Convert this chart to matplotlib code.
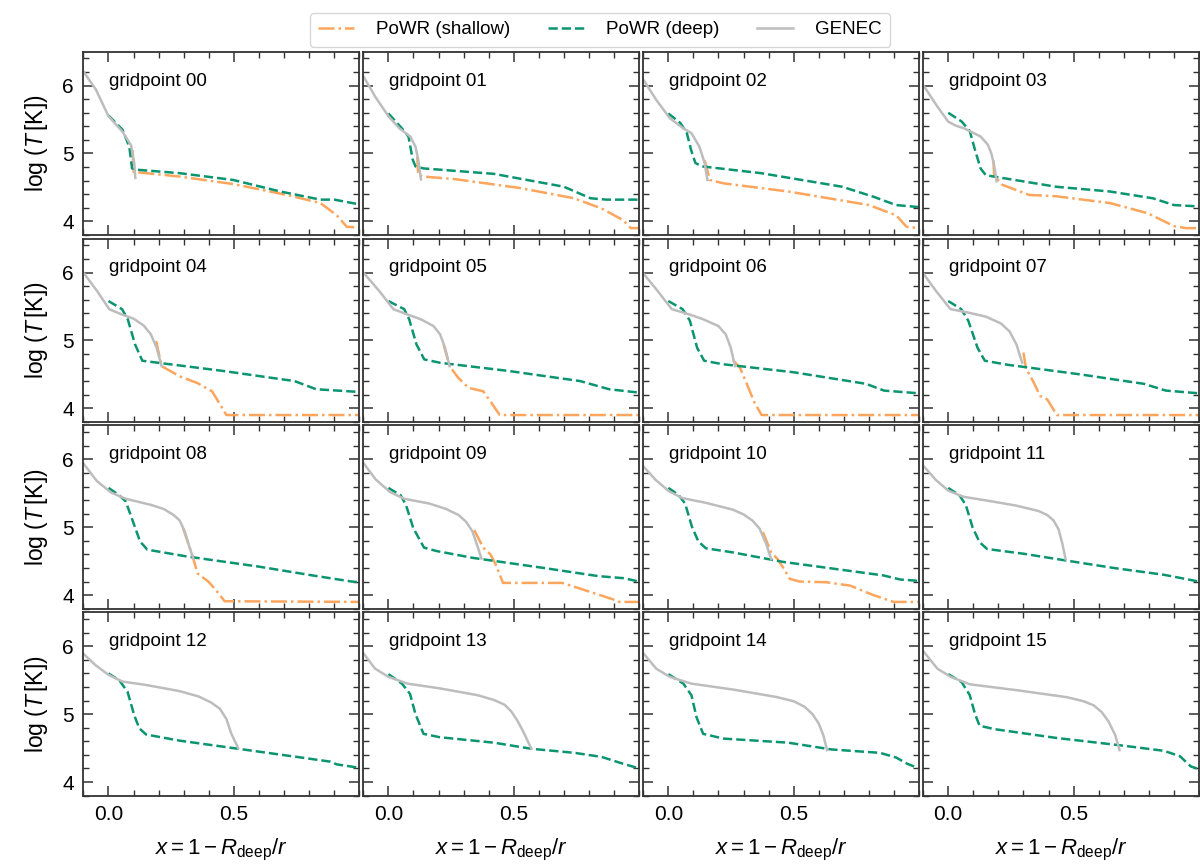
import matplotlib
matplotlib.use("Agg")
import matplotlib.pyplot as plt
from matplotlib.ticker import MultipleLocator, FixedLocator

plt.rcParams['font.family'] = ['Liberation Sans', 'DejaVu Sans']
plt.rcParams['mathtext.fontset'] = 'custom'
plt.rcParams['mathtext.rm'] = 'Liberation Sans'
plt.rcParams['mathtext.it'] = 'Liberation Sans:italic'
plt.rcParams['mathtext.bf'] = 'Liberation Sans:bold'

# ---------------- data (x = 1 - R_deep/r, y = log T) ----------------
labels = ["gridpoint %02d" % i for i in range(16)]

genec_x_00 = [-0.1, -0.05, 0.0, 0.056, 0.09, 0.103, 0.107]
genec_y_00 = [6.21, 5.94, 5.55, 5.32, 5.12, 4.85, 4.64]
deep_x_00 = [0.0, 0.056, 0.083, 0.094, 0.116, 0.284, 0.497, 0.685, 0.845, 0.90, 1.0]
deep_y_00 = [5.56, 5.35, 5.10, 4.78, 4.76, 4.71, 4.61, 4.44, 4.32, 4.32, 4.25]
shal_x_00 = [0.096, 0.100, 0.123, 0.284, 0.497, 0.71, 0.845, 0.91, 0.95, 1.0]
shal_y_00 = [5.05, 4.73, 4.72, 4.66, 4.55, 4.39, 4.27, 4.09, 3.92, 3.91]

genec_x_01 = [-0.1, -0.053, 0.0, 0.044, 0.087, 0.108, 0.119, 0.13]
genec_y_01 = [6.14, 5.84, 5.55, 5.37, 5.25, 5.10, 4.91, 4.62]
deep_x_01 = [0.0, 0.054, 0.08, 0.097, 0.108, 0.14, 0.42, 0.70, 0.806, 0.87, 1.0]
deep_y_01 = [5.59, 5.37, 5.25, 4.91, 4.81, 4.78, 4.70, 4.51, 4.34, 4.32, 4.32]
shal_x_01 = [0.115, 0.119, 0.14, 0.27, 0.527, 0.74, 0.85, 0.935, 0.967, 1.0]
shal_y_01 = [4.95, 4.68, 4.66, 4.62, 4.49, 4.34, 4.19, 4.02, 3.90, 3.90]

genec_x_02 = [-0.1, -0.048, 0.006, 0.06, 0.092, 0.124, 0.145, 0.156]
genec_y_02 = [6.09, 5.79, 5.52, 5.37, 5.30, 5.10, 4.86, 4.61]
deep_x_02 = [0.0, 0.048, 0.074, 0.091, 0.108, 0.134, 0.37, 0.693, 0.82, 0.908, 1.0]
deep_y_02 = [5.59, 5.45, 5.30, 5.05, 4.86, 4.81, 4.71, 4.51, 4.36, 4.24, 4.21]
shal_x_02 = [0.145, 0.166, 0.22, 0.478, 0.80, 0.908, 0.95, 1.0]
shal_y_02 = [4.90, 4.61, 4.56, 4.44, 4.24, 4.09, 3.92, 3.90]

genec_x_03 = [-0.1, -0.043, 0.0, 0.03, 0.064, 0.129, 0.158, 0.172, 0.183, 0.193]
genec_y_03 = [6.01, 5.69, 5.47, 5.41, 5.37, 5.25, 5.13, 5.0, 4.83, 4.59]
deep_x_03 = [0.0, 0.054, 0.086, 0.107, 0.129, 0.15, 0.215, 0.43, 0.644, 0.816, 0.90, 1.0]
deep_y_03 = [5.60, 5.47, 5.33, 5.05, 4.78, 4.68, 4.64, 4.51, 4.44, 4.34, 4.24, 4.22]
shal_x_03 = [0.18, 0.183, 0.215, 0.322, 0.43, 0.644, 0.795, 0.90, 0.95, 1.0]
shal_y_03 = [4.90, 4.68, 4.54, 4.39, 4.37, 4.27, 4.12, 3.93, 3.90, 3.90]

genec_x_04 = [-0.1, -0.046, 0.003, 0.054, 0.1, 0.14, 0.169, 0.192, 0.212]
genec_y_04 = [6.0, 5.73, 5.46, 5.38, 5.32, 5.22, 5.09, 4.89, 4.62]
deep_x_04 = [0.0, 0.054, 0.077, 0.106, 0.135, 0.198, 0.456, 0.742, 0.828, 1.0]
deep_y_04 = [5.58, 5.46, 5.31, 4.94, 4.70, 4.67, 4.55, 4.40, 4.28, 4.24]
shal_x_04 = [0.19, 0.212, 0.284, 0.355, 0.413, 0.441, 0.47, 1.0]
shal_y_04 = [4.99, 4.62, 4.47, 4.37, 4.25, 4.08, 3.90, 3.90]

genec_x_05 = [-0.1, -0.037, 0.02, 0.077, 0.13, 0.18, 0.206, 0.226, 0.244]
genec_y_05 = [6.0, 5.73, 5.46, 5.38, 5.31, 5.21, 5.09, 4.89, 4.62]
deep_x_05 = [0.0, 0.063, 0.083, 0.112, 0.143, 0.206, 0.478, 0.765, 0.88, 1.0]
deep_y_05 = [5.58, 5.46, 5.31, 4.94, 4.72, 4.67, 4.55, 4.40, 4.28, 4.23]
shal_x_05 = [0.22, 0.244, 0.278, 0.32, 0.378, 0.407, 0.444, 1.0]
shal_y_05 = [4.94, 4.62, 4.45, 4.30, 4.25, 4.10, 3.90, 3.90]

genec_x_06 = [-0.1, -0.043, 0.014, 0.086, 0.14, 0.2, 0.229, 0.249, 0.266]
genec_y_06 = [5.99, 5.73, 5.46, 5.38, 5.31, 5.21, 5.09, 4.89, 4.62]
deep_x_06 = [0.0, 0.057, 0.086, 0.115, 0.143, 0.215, 0.50, 0.788, 0.86, 1.0]
deep_y_06 = [5.58, 5.46, 5.29, 4.89, 4.70, 4.65, 4.53, 4.36, 4.26, 4.22]
shal_x_06 = [0.258, 0.287, 0.315, 0.344, 0.372, 1.0]
shal_y_06 = [4.71, 4.59, 4.34, 4.08, 3.90, 3.90]

genec_x_07 = [-0.1, -0.049, 0.009, 0.08, 0.15, 0.21, 0.245, 0.272, 0.295]
genec_y_07 = [5.99, 5.73, 5.46, 5.41, 5.35, 5.25, 5.13, 4.94, 4.67]
deep_x_07 = [0.0, 0.052, 0.08, 0.117, 0.146, 0.238, 0.524, 0.78, 0.868, 1.0]
deep_y_07 = [5.58, 5.46, 5.29, 4.89, 4.70, 4.64, 4.50, 4.36, 4.26, 4.22]
shal_x_07 = [0.30, 0.31, 0.338, 0.367, 0.395, 0.433, 1.0]
shal_y_07 = [4.82, 4.59, 4.40, 4.18, 4.13, 3.90, 3.90]

genec_x_08 = [-0.1, -0.046, 0.011, 0.069, 0.169, 0.22, 0.26, 0.284, 0.305, 0.32, 0.338]
genec_y_08 = [5.94, 5.68, 5.51, 5.42, 5.33, 5.27, 5.18, 5.10, 4.93, 4.74, 4.54]
deep_x_08 = [0.0, 0.04, 0.069, 0.097, 0.126, 0.155, 0.312, 0.6, 0.814, 0.97, 1.0]
deep_y_08 = [5.58, 5.48, 5.38, 5.09, 4.79, 4.67, 4.57, 4.42, 4.29, 4.20, 4.19]
shal_x_08 = [0.298, 0.32, 0.338, 0.355, 0.398, 0.427, 0.463, 1.0]
shal_y_08 = [4.98, 4.74, 4.54, 4.32, 4.20, 4.08, 3.91, 3.90]

genec_x_09 = [-0.1, -0.052, 0.006, 0.063, 0.163, 0.23, 0.28, 0.31, 0.335, 0.357, 0.371]
genec_y_09 = [5.95, 5.71, 5.52, 5.42, 5.35, 5.27, 5.18, 5.08, 4.94, 4.70, 4.54]
deep_x_09 = [0.0, 0.049, 0.07, 0.099, 0.142, 0.192, 0.335, 0.62, 0.837, 0.937, 1.0]
deep_y_09 = [5.58, 5.47, 5.33, 4.99, 4.70, 4.65, 4.55, 4.40, 4.28, 4.25, 4.20]
shal_x_09 = [0.342, 0.378, 0.407, 0.428, 0.457, 0.693, 0.794, 0.894, 0.92, 1.0]
shal_y_09 = [4.96, 4.70, 4.60, 4.45, 4.18, 4.18, 4.06, 3.94, 3.90, 3.90]

genec_x_10 = [-0.1, -0.051, 0.003, 0.056, 0.15, 0.257, 0.3, 0.335, 0.364, 0.39, 0.41]
genec_y_10 = [5.90, 5.70, 5.53, 5.43, 5.36, 5.26, 5.19, 5.10, 4.98, 4.76, 4.53]
deep_x_10 = [0.0, 0.04, 0.067, 0.094, 0.12, 0.15, 0.257, 0.457, 0.658, 0.858, 0.925, 1.0]
deep_y_10 = [5.58, 5.48, 5.35, 5.01, 4.79, 4.69, 4.63, 4.49, 4.39, 4.29, 4.23, 4.21]
shal_x_10 = [0.377, 0.41, 0.436, 0.457, 0.484, 0.524, 0.63, 0.725, 0.818, 0.898, 1.0]
shal_y_10 = [4.93, 4.63, 4.53, 4.41, 4.24, 4.20, 4.19, 4.14, 4.0, 3.90, 3.90]

genec_x_11 = [-0.1, -0.05, 0.0, 0.06, 0.16, 0.27, 0.36, 0.395, 0.42, 0.44, 0.455, 0.468]
genec_y_11 = [5.91, 5.70, 5.54, 5.45, 5.39, 5.32, 5.24, 5.18, 5.10, 4.97, 4.76, 4.53]
deep_x_11 = [0.0, 0.045, 0.07, 0.097, 0.125, 0.155, 0.30, 0.47, 0.66, 0.86, 1.0]
deep_y_11 = [5.58, 5.47, 5.33, 5.0, 4.78, 4.68, 4.61, 4.51, 4.40, 4.30, 4.20]

genec_x_12 = [-0.1, -0.051, 0.0, 0.056, 0.15, 0.283, 0.36, 0.41, 0.444, 0.47, 0.49, 0.517]
genec_y_12 = [5.89, 5.72, 5.58, 5.48, 5.43, 5.34, 5.26, 5.17, 5.08, 4.93, 4.71, 4.50]
deep_x_12 = [0.0, 0.043, 0.076, 0.103, 0.123, 0.15, 0.283, 0.517, 0.751, 0.885, 0.91, 1.0]
deep_y_12 = [5.60, 5.50, 5.33, 4.98, 4.79, 4.70, 4.61, 4.49, 4.37, 4.30, 4.26, 4.21]

genec_x_13 = [-0.1, -0.053, 0.0, 0.076, 0.205, 0.355, 0.42, 0.463, 0.49, 0.515, 0.538, 0.57]
genec_y_13 = [5.90, 5.67, 5.55, 5.45, 5.38, 5.28, 5.21, 5.14, 5.04, 4.90, 4.74, 4.49]
deep_x_13 = [0.0, 0.054, 0.086, 0.108, 0.14, 0.205, 0.42, 0.57, 0.742, 0.85, 0.935, 1.0]
deep_y_13 = [5.59, 5.45, 5.30, 5.0, 4.71, 4.66, 4.58, 4.49, 4.43, 4.37, 4.27, 4.20]

genec_x_14 = [-0.1, -0.048, 0.006, 0.092, 0.263, 0.435, 0.5, 0.543, 0.575, 0.6, 0.618, 0.633]
genec_y_14 = [5.90, 5.67, 5.55, 5.45, 5.36, 5.25, 5.19, 5.11, 5.0, 4.86, 4.69, 4.47]
deep_x_14 = [0.0, 0.06, 0.092, 0.113, 0.139, 0.22, 0.478, 0.65, 0.844, 0.909, 0.952, 1.0]
deep_y_14 = [5.59, 5.45, 5.28, 4.95, 4.71, 4.64, 4.58, 4.48, 4.43, 4.36, 4.27, 4.20]

genec_x_15 = [-0.1, -0.043, 0.01, 0.086, 0.28, 0.473, 0.54, 0.58, 0.612, 0.638, 0.666, 0.683]
genec_y_15 = [5.93, 5.67, 5.55, 5.44, 5.35, 5.25, 5.19, 5.13, 5.03, 4.90, 4.69, 4.47]
deep_x_15 = [0.0, 0.054, 0.086, 0.107, 0.125, 0.183, 0.43, 0.688, 0.86, 0.924, 0.967, 1.0]
deep_y_15 = [5.59, 5.47, 5.28, 5.0, 4.83, 4.78, 4.65, 4.54, 4.46, 4.38, 4.23, 4.19]

g = globals()
panels = []
for i in range(16):
    k = "%02d" % i
    panels.append(dict(
        gx=g["genec_x_" + k], gy=g["genec_y_" + k],
        dx=g["deep_x_" + k], dy=g["deep_y_" + k],
        sx=g.get("shal_x_" + k), sy=g.get("shal_y_" + k)))

# ---------------- styles ----------------
c_shal = "#FCA55D"
c_deep = "#0B9470"
c_gen = "#BDBDBD"
lw = 1.8

fig, axes = plt.subplots(4, 4, figsize=(12, 8.66), dpi=100, sharex=True, sharey=True)
fig.subplots_adjust(left=0.0695, right=0.9992, top=0.9403, bottom=0.0813,
                    wspace=0.0145, hspace=0.02)

for i, ax in enumerate(axes.flat):
    p = panels[i]
    if p["sx"] is not None:
        ax.plot(p["sx"], p["sy"], color=c_shal, lw=lw, ls="-.", label="PoWR (shallow)")
    ax.plot(p["dx"], p["dy"], color=c_deep, lw=lw, ls="--", label="PoWR (deep)")
    ax.plot(p["gx"], p["gy"], color=c_gen, lw=lw, ls="-", label="GENEC")
    ax.text(0.093, 0.84, labels[i], transform=ax.transAxes, fontsize=13.5,
            va="center", ha="left")
    ax.set_xlim(-0.1, 1.0)
    ax.set_ylim(3.8, 6.5)
    ax.xaxis.set_major_locator(FixedLocator([0.0, 0.5]))
    ax.xaxis.set_minor_locator(MultipleLocator(0.1))
    ax.yaxis.set_major_locator(FixedLocator([4, 5, 6]))
    ax.yaxis.set_minor_locator(MultipleLocator(0.2))
    ax.tick_params(which="both", direction="in", top=True, right=True,
                   labelsize=15, color="#333333")
    ax.tick_params(which="major", length=7, width=1.1, pad=7)
    ax.tick_params(which="minor", length=4, width=1.0)
    for s in ax.spines.values():
        s.set_linewidth(1.3)
        s.set_color("#333333")
    ax.set_xticklabels(["0.0", "0.5"])

for ax in axes[:, 0]:
    ax.set_ylabel(r"$\mathrm{log}\ (T\,[\mathrm{K}])$", fontsize=16.5, labelpad=9)
for ax in axes[-1, :]:
    ax.set_xlabel(r"$x = 1 - R_\mathrm{deep}/r$", fontsize=16, labelpad=9)

handles, lbls = axes[0, 0].get_legend_handles_labels()
fig.legend(handles, lbls, loc="upper center", bbox_to_anchor=(0.5, 0.996), ncol=3,
           fontsize=13.5, frameon=True, fancybox=True, edgecolor="#cccccc",
           handlelength=1.9, columnspacing=2.0, borderpad=0.45, handletextpad=1.2)

fig.savefig("out.png", dpi=100)
